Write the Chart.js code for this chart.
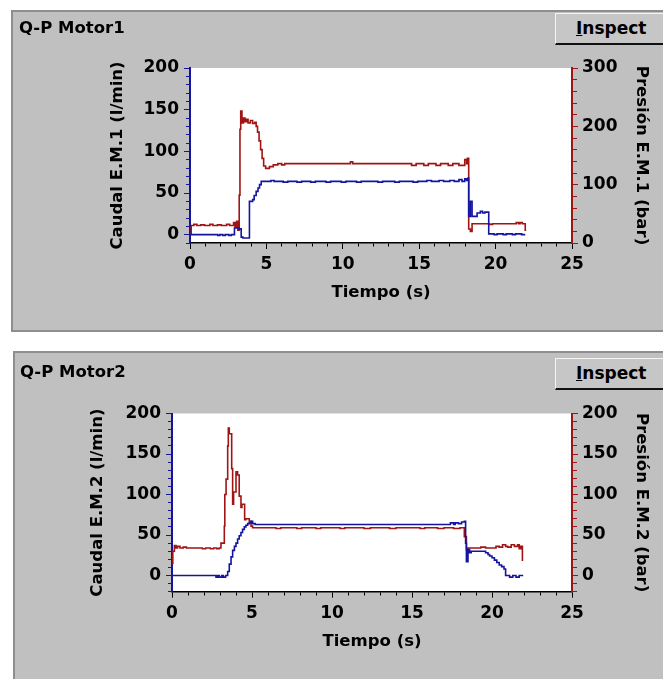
<!DOCTYPE html>
<html>
<head>
<meta charset="utf-8">
<script src="https://cdn.jsdelivr.net/npm/chart.js@4.4.1/dist/chart.umd.min.js"></script>
<style>
  html, body { margin: 0; padding: 0; background: #fff; }
  body { position: relative; width: 663px; height: 679px; overflow: hidden; }
  .panel { position: absolute; background: #c0c0c0; box-sizing: border-box;
           border-top: 2px solid #8e8e8e; border-left: 2px solid #8e8e8e; }
  #panel1 { left: 11px; top: 10px; width: 660px; height: 322px; border-bottom: 2px solid #8e8e8e; }
  #panel2 { left: 13px; top: 351px; width: 660px; height: 340px; }
  .ptitle { position: absolute; z-index: 3; font: bold 16.5px "DejaVu Sans", sans-serif; line-height: 20px; color: #000; }
  .btn { position: absolute; z-index: 3; left: 555px; width: 120px; height: 32px; box-sizing: border-box;
         background-color: #c6c6c6; border-top: 1px solid #f4f4f4; border-left: 1px solid #f4f4f4;
         border-bottom: 2px solid #111; border-right: none;
         font: bold 17px "DejaVu Sans", sans-serif; line-height: 28px; color: #000;
         padding-left: 20px; text-align: left; }
  canvas { position: absolute; left: 0; z-index: 2; }
</style>
</head>
<body>
<div class="panel" id="panel1"></div>
<div class="panel" id="panel2"></div>
<canvas id="motor1" width="663" height="340" style="top:0;"></canvas>
<canvas id="motor2" width="663" height="339" style="top:340px;"></canvas>
<div class="ptitle" style="left:19px;top:18px;">Q-P Motor1</div>
<div class="btn" style="top:13px;"><u>I</u>nspect</div>
<div class="ptitle" style="left:20px;top:362px;">Q-P Motor2</div>
<div class="btn" style="top:358px;"><u>I</u>nspect</div>
<script>
// Motor 1 – flow (l/min): sample-and-hold change points
const m1FlowT = [0, 1.82, 1.95, 2.15, 2.3, 2.55, 2.7, 2.91, 3.2, 3.35,
                 3.46, 3.89, 4.1, 4.2, 4.33, 4.45, 4.55, 4.66, 5.3, 5.5,
                 6.1, 6.4, 7.0, 7.3, 7.9, 8.2, 8.9, 9.2, 9.9, 10.2,
                 10.9, 11.2, 12.3, 12.6, 13.4, 13.7, 14.6, 14.9, 15.5, 15.8,
                 16.3, 16.6, 17.0, 17.3, 17.6, 17.8, 17.98, 18.1, 18.2, 18.24,
                 18.35, 18.46, 18.79, 19.0, 19.15, 19.3, 19.55, 19.9, 20.1, 20.5,
                 20.7, 21.1, 21.3, 21.7, 21.94];
const m1FlowQ = [0, -1, 0, -1, 0, -1, 0, 8, 7, -3,
                 -4, 40, 42, 47, 52, 56, 60, 64, 65, 64,
                 63, 64, 63, 64, 63, 64, 63, 64, 63, 64,
                 63, 64, 63, 64, 63, 64, 63, 64, 65, 64,
                 65, 64, 65, 64, 66, 64, 67, 65, 68, 22,
                 40, 22, 26, 28, 26, 27, 1, 0, 1, 0,
                 1, 0, 1, 0, 0];

// Motor 1 – pressure (bar)
const m1PresT = [0, 0.08, 0.25, 0.45, 0.7, 0.95, 1.3, 1.5, 1.8, 2.05,
                 2.4, 2.6, 2.85, 2.95, 3.05, 3.13, 3.22, 3.27, 3.32, 3.4,
                 3.5, 3.6, 3.7, 3.8, 3.95, 4.1, 4.25, 4.33, 4.42, 4.52,
                 4.62, 4.72, 4.82, 4.95, 5.2, 5.45, 5.75, 6.0, 6.2, 10.5,
                 10.65, 14.5, 14.8, 15.3, 15.6, 16.1, 16.4, 16.9, 17.2, 17.6,
                 17.98, 18.1, 18.15, 18.24, 18.35, 18.46, 19.6, 19.8, 21.35, 21.5,
                 21.6, 21.75, 21.94, 22.0];
const m1PresP = [16, 30, 32, 30, 31, 30, 32, 30, 31, 30,
                 32, 30, 35, 27, 37, 22, 82, 195, 226, 206,
                 214, 208, 212, 206, 210, 205, 207, 200, 190, 175,
                 160, 145, 132, 128, 131, 134, 136, 134, 136, 139,
                 136, 133, 136, 133, 136, 133, 136, 133, 136, 133,
                 143, 136, 145, 24, 20, 33, 32, 33, 35, 33,
                 35, 33, 22, 22];

// Motor 2 – flow (l/min)
const m2FlowT = [0, 2.75, 2.85, 2.95, 3.1, 3.2, 3.35, 3.48, 3.58, 3.69,
                 3.79, 3.9, 4.0, 4.1, 4.2, 4.31, 4.41, 4.52, 4.62, 4.73,
                 4.83, 4.94, 5.04, 5.2, 17.4, 17.6, 17.7, 17.9, 18.1, 18.27,
                 18.35, 18.4, 18.5, 18.6, 18.7, 19.6, 19.75, 19.85, 20.0, 20.15,
                 20.3, 20.45, 20.6, 20.75, 20.85, 21.1, 21.3, 21.5, 21.7, 21.9];
const m2FlowQ = [0, -2, 0, -2, 0, -2, 0, 5, 14, 23,
                 31, 36, 40, 45, 49, 53, 57, 60, 62, 64,
                 65, 67, 64, 63, 65, 63, 65, 64, 66, 67,
                 40, 17, 32, 28, 30, 28, 26, 24, 22, 19,
                 16, 13, 11, 8, 0, -2, 0, -2, 0, -1];

// Motor 2 – pressure (bar)
const m2PresT = [0, 0.05, 0.15, 0.25, 0.35, 0.5, 0.7, 0.9, 1.9, 2.1,
                 2.4, 2.6, 2.8, 2.95, 3.06, 3.27, 3.3, 3.38, 3.48, 3.52,
                 3.58, 3.73, 3.79, 3.85, 4.0, 4.1, 4.2, 4.31, 4.37, 4.54,
                 4.62, 4.83, 4.94, 5.04, 6.5, 6.8, 7.8, 8.1, 9.0, 9.3,
                 10.5, 10.8, 12.0, 12.4, 13.6, 14.0, 15.5, 15.8, 16.6, 17.0,
                 17.6, 18.0, 18.27, 18.4, 18.5, 19.3, 19.6, 20.25, 20.45, 20.66,
                 20.85, 20.98, 21.2, 21.4, 21.6, 21.7, 21.8, 21.9, 21.95];
const m2PresP = [15, 30, 37, 34, 36, 34, 35, 34, 33, 34,
                 33, 34, 33, 34, 40, 61, 100, 119, 160, 182,
                 175, 132, 88, 103, 128, 124, 98, 84, 88, 69,
                 70, 67, 61, 59, 58, 59, 58, 59, 58, 59,
                 58, 59, 58, 59, 58, 59, 58, 59, 58, 59,
                 58, 59, 48, 32, 34, 35, 34, 36, 35, 38,
                 36, 35, 38, 36, 38, 33, 36, 19, 19];

// Axis ranges and label steps
const timeRange = [0, 25];
const timeMajor = 5;
const m1FlowRange = [-10, 200], m1PresRange = [0, 300];
const m2FlowRange = [-20, 200], m2PresRange = [-20, 200];

const RED = '#a01414';
const BLUE = '#1414a0';
const FONT = 'DejaVu Sans';

function zip(ts, vs) { return ts.map((t, i) => ({ x: t, y: vs[i] })); }
function isMajor(v, step) { const r = v / step; return Math.abs(r - Math.round(r)) < 1e-6; }

// minor ticks are drawn shorter than major ones by dashing the tick stroke
function tickDash(step, outerFirst, len, minor) {
  return ctx => {
    if (!ctx.tick || isMajor(ctx.tick.value, step)) return [];
    return outerFirst ? [0, len - minor, minor, 60] : [minor, 60];
  };
}

const plotBackground = {
  id: 'plotBackground',
  beforeDraw(chart) {
    const { ctx, chartArea: a } = chart;
    ctx.save();
    ctx.fillStyle = '#fff';
    ctx.fillRect(a.left, a.top, a.right - a.left, a.bottom - a.top);
    ctx.restore();
  }
};

function buildChart(id, o) {
  const tickFont = { family: FONT, size: 17, weight: 'bold' };
  const titleFont = { family: FONT, size: 16.5, weight: 'bold' };
  const series = (label, data, axis, color) => ({
    label, data, yAxisID: axis, borderColor: color, borderWidth: 1.6,
    stepped: true, pointRadius: 0, fill: false, tension: 0
  });
  const yAxis = (pos, range, step, major, color, width, titleText, titlePad, outerFirst, pad) => ({
    type: 'linear', position: pos, min: range[0], max: range[1],
    ticks: { stepSize: step, autoSkip: false, padding: pad, color: '#000', font: tickFont,
             callback: v => isMajor(v, major) ? String(v) : '' },
    grid: { drawOnChartArea: false, drawTicks: true, tickLength: 6, tickColor: color, tickWidth: 1,
            tickBorderDash: tickDash(major, outerFirst, 6, 4) },
    border: { color: color, width: 2 },
    title: { display: true, text: titleText, color: '#000', font: titleFont,
             padding: { top: titlePad, bottom: 0 } },
    afterFit: s => { s.width = width; }
  });
  return new Chart(document.getElementById(id), {
    type: 'line',
    data: { datasets: [
      series(o.flowTitle, o.flow, 'yQ', BLUE),
      series(o.presTitle, o.pres, 'yP', RED)
    ] },
    options: {
      responsive: false, animation: false, devicePixelRatio: 1, events: [],
      layout: { padding: { top: o.padTop, left: 0, right: 0, bottom: 0 } },
      plugins: { legend: { display: false }, tooltip: { enabled: false } },
      scales: {
        x: {
          type: 'linear', position: 'bottom', min: timeRange[0], max: timeRange[1],
          ticks: { stepSize: 1, autoSkip: false, maxRotation: 0, padding: o.xPad, color: '#000', font: tickFont,
                   callback: v => isMajor(v, timeMajor) ? String(v) : '' },
          grid: { drawOnChartArea: false, drawTicks: true, tickLength: 6, tickColor: '#000', tickWidth: 1,
                  tickBorderDash: tickDash(timeMajor, false, 6, 3) },
          border: { color: '#000', width: 1.5 },
          title: { display: true, text: 'Tiempo (s)', color: '#000', font: titleFont,
                   padding: { top: 0, bottom: o.xTitlePad } },
          afterFit: s => { s.height = o.xHeight; }
        },
        yQ: yAxis('left', o.flowRange, 10, 50, BLUE, o.leftWidth, o.flowTitle, o.leftTitlePad, true, 5),
        yP: yAxis('right', o.presRange, o.presStep, o.presMajor, RED, o.rightWidth, o.presTitle, o.rightTitlePad, false, 4)
      }
    },
    plugins: [plotBackground]
  });
}

buildChart('motor1', {
  flow: zip(m1FlowT, m1FlowQ), pres: zip(m1PresT, m1PresP),
  flowTitle: 'Caudal E.M.1 (l/min)', presTitle: 'Presión E.M.1 (bar)',
  flowRange: m1FlowRange, presRange: m1PresRange, presStep: 20, presMajor: 100,
  padTop: 68, xHeight: 97, leftWidth: 190, rightWidth: 91,
  leftTitlePad: 107.6, rightTitlePad: 12, xTitlePad: 37, xPad: 5
});

buildChart('motor2', {
  flow: zip(m2FlowT, m2FlowQ), pres: zip(m2PresT, m2PresP),
  flowTitle: 'Caudal E.M.2 (l/min)', presTitle: 'Presión E.M.2 (bar)',
  flowRange: m2FlowRange, presRange: m2PresRange, presStep: 10, presMajor: 50,
  padTop: 73.5, xHeight: 87.3, leftWidth: 172, rightWidth: 91,
  leftTitlePad: 88, rightTitlePad: 12, xTitlePad: 27, xPad: 6
});
</script>
</body>
</html>
